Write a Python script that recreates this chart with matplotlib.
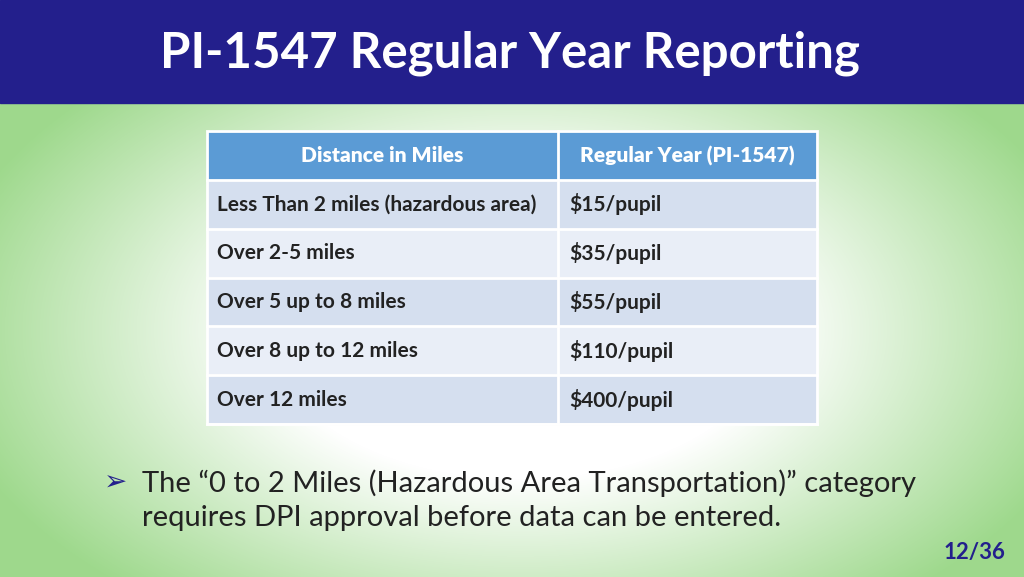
import numpy as np
import matplotlib
matplotlib.use("Agg")
import matplotlib.pyplot as plt
from matplotlib.patches import Rectangle

title = "PI-1547 Regular Year Reporting"
headers = ["Distance in Miles", "Regular Year (PI-1547)"]
distances = ["Less Than 2 miles (hazardous area)", "Over 2-5 miles", "Over 5 up to 8 miles",
             "Over 8 up to 12 miles", "Over 12 miles"]
rates = ["$15/pupil", "$35/pupil", "$55/pupil", "$110/pupil", "$400/pupil"]
bullet_lines = ["The \u201c0 to 2 Miles (Hazardous Area Transportation)\u201d category",
                "requires DPI approval before data can be entered."]
page = "12/36"

plt.rcParams['font.family'] = ['Lato', 'DejaVu Sans']
fig = plt.figure(figsize=(10.24, 5.77), dpi=100)
ax = fig.add_axes([0, 0, 1, 1])
ax.set_xlim(0, 1024); ax.set_ylim(577, 0); ax.axis('off')

yy, xx = np.mgrid[0:577, 0:1024]
d = np.sqrt(((xx - 520) / 560) ** 2 + ((yy - 330) / 330) ** 2)
t = np.clip((d - 0.45) / 0.6, 0, 1)[..., None]
white = np.array([1, 1, 1]); green = np.array([0.62, 0.85, 0.55])
img = white * (1 - t) + green * t
ax.imshow(img, extent=(0, 1024, 577, 0), aspect='auto', zorder=0)

ax.add_patch(Rectangle((0, 0), 1024, 103, color='#231F8C', zorder=1))
ax.text(510, 53, title, color='white', fontsize=35.5, fontweight='bold', ha='center', va='center', zorder=2)

x0, xm, x1 = 207, 558, 817
top, hh, rh = 131, 49, 48.8
ax.add_patch(Rectangle((x0, top), x1 - x0, hh, color='#5B9BD5', zorder=2))
ax.text((x0 + xm) / 2, top + hh / 2, headers[0], color='white', fontsize=15, fontweight='heavy', ha='center', va='center', zorder=3)
ax.text((xm + x1) / 2, top + hh / 2, headers[1], color='white', fontsize=15, fontweight='heavy', ha='center', va='center', zorder=3)
for i, (dist, rate) in enumerate(zip(distances, rates)):
    y = top + hh + i * rh
    ax.add_patch(Rectangle((x0, y), x1 - x0, rh, color='#D5DFEF' if i % 2 == 0 else '#E9EEF7', zorder=2))
    ax.text(217, y + rh / 2, dist, fontsize=15, fontweight='bold', color='#222222', va='center', zorder=3)
    ax.text(569, y + rh / 2, rate, fontsize=15, fontweight='bold', color='#222222', va='center', zorder=3)
for i in range(6):
    y = top + hh + i * rh
    ax.plot([x0, x1], [y, y], color='white', lw=2, zorder=4)
ax.plot([xm, xm], [top, top + hh + 5 * rh], color='white', lw=2, zorder=4)
ax.add_patch(Rectangle((x0, top), x1 - x0, hh + 5 * rh, fill=False, ec='white', lw=2, zorder=4))

ax.text(104, 483, "\u27a2", fontsize=20, color='#231F8C', va='center', family=['DejaVu Sans'], zorder=3)
ax.text(142, 483, bullet_lines[0], fontsize=21, color='#222222', va='center', zorder=3)
ax.text(142, 518, bullet_lines[1], fontsize=21, color='#222222', va='center', zorder=3)
ax.text(1005, 552, page, fontsize=16, fontweight='bold', color='#231F8C', ha='right', va='center', zorder=3)

fig.savefig("out.png", dpi=100)
